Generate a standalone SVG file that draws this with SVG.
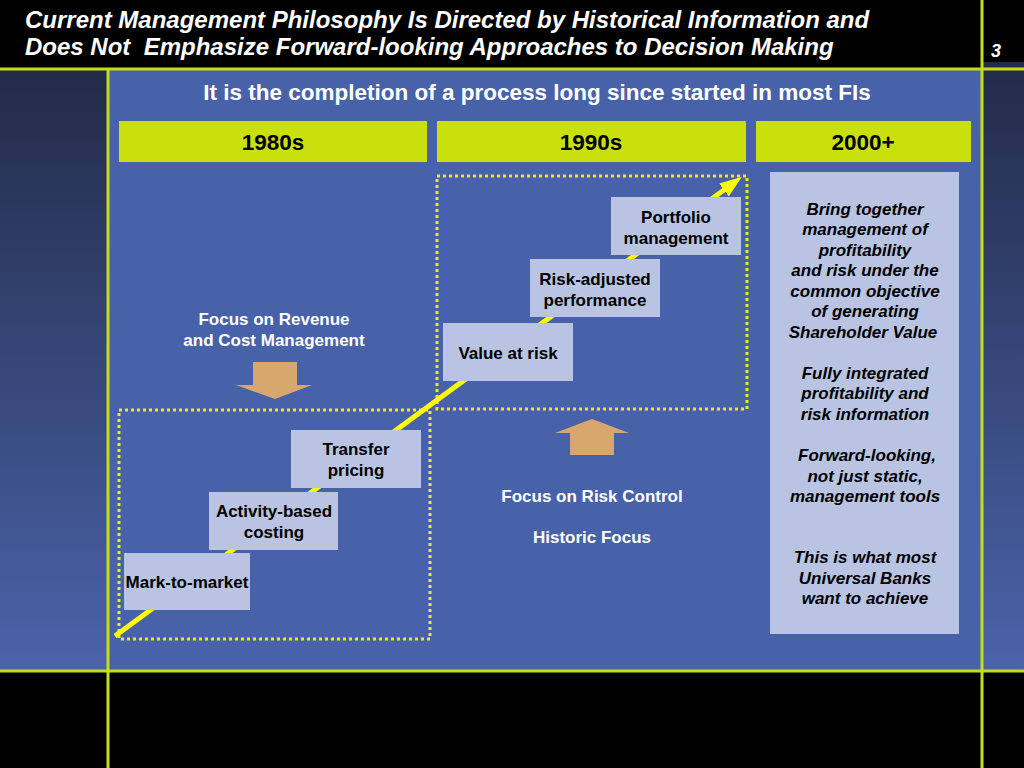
<svg xmlns="http://www.w3.org/2000/svg" width="1024" height="768" viewBox="0 0 1024 768">
<defs>
<linearGradient id="side" x1="0" y1="0" x2="0" y2="1">
<stop offset="0" stop-color="#222b48"/>
<stop offset="1" stop-color="#4a63aa"/>
</linearGradient>
<marker id="ah" markerWidth="5" markerHeight="4" refX="0.5" refY="1.6" orient="auto" markerUnits="strokeWidth">
<path d="M0,0 L4.4,1.6 L0,3.2 z" fill="#ffff00"/>
</marker>
<style>
.lime{fill:#c9e00c}
.sep{stroke:#c5dc1a;stroke-width:3}
.box{fill:#b8c4e1}
.dot{fill:none;stroke:#e8ee20;stroke-width:3;stroke-dasharray:3 3}
.t{font-family:"Liberation Sans",Arial,Helvetica,sans-serif;font-weight:bold}
.w{fill:#ffffff}
.k{fill:#000000}
.it{font-style:italic}
.tan{fill:#d8a76e}
</style>
</defs>
<rect x="0" y="0" width="1024" height="768" fill="#000"/>
<rect x="0" y="70" width="108" height="600" fill="url(#side)"/>
<rect x="982" y="62" width="42" height="608" fill="url(#side)"/>
<rect x="108" y="70" width="874" height="600" fill="#4862a9"/>
<g id="frame">
<line class="sep" x1="0" y1="69" x2="1024" y2="69"/>
<line class="sep" x1="0" y1="671" x2="1024" y2="671"/>
<line class="sep" x1="108" y1="69" x2="108" y2="768"/>
<line class="sep" x1="982" y1="0" x2="982" y2="768"/>
</g>
<g id="title">
<text class="t w it" x="25" y="28" font-size="24">Current Management Philosophy Is Directed by Historical Information and</text>
<text class="t w it" x="25" y="55" font-size="24" xml:space="preserve">Does Not  Emphasize Forward-looking Approaches to Decision Making</text>
<text class="t w it" x="991" y="57" font-size="18">3</text>
</g>
<text id="subtitle" class="t w" x="537" y="100" font-size="22.5" text-anchor="middle">It is the completion of a process long since started in most FIs</text>
<g id="y1980"><rect class="lime" x="119" y="121" width="308" height="41"/><text class="t k" x="273" y="150" font-size="22.5" text-anchor="middle">1980s</text></g>
<g id="y1990"><rect class="lime" x="437" y="121" width="309" height="41"/><text class="t k" x="591" y="150" font-size="22.5" text-anchor="middle">1990s</text></g>
<g id="y2000"><rect class="lime" x="756" y="121" width="215" height="41"/><text class="t k" x="863" y="150" font-size="22.5" text-anchor="middle">2000+</text></g>
<rect id="zone1980" class="dot" x="119" y="410" width="311" height="229"/>
<rect id="zone1990" class="dot" x="437" y="176" width="310" height="233"/>
<g id="connectors">
<line x1="115" y1="636" x2="726" y2="188.5" stroke="#ffff00" stroke-width="5" marker-end="url(#ah)"/>
</g>
<g id="mtm"><rect class="box" x="124" y="553" width="126" height="57"/><text class="t k" x="187" y="588" font-size="17" text-anchor="middle">Mark-to-market</text></g>
<g id="abc"><rect class="box" x="209" y="492" width="129" height="58"/><text class="t k" x="274" y="517" font-size="17" text-anchor="middle">Activity-based</text><text class="t k" x="274" y="538" font-size="17" text-anchor="middle">costing</text></g>
<g id="tp"><rect class="box" x="291" y="430" width="130" height="58"/><text class="t k" x="356" y="455" font-size="17" text-anchor="middle">Transfer</text><text class="t k" x="356" y="476" font-size="17" text-anchor="middle">pricing</text></g>
<g id="var"><rect class="box" x="443" y="323" width="130" height="58"/><text class="t k" x="508" y="359" font-size="17" text-anchor="middle">Value at risk</text></g>
<g id="rap"><rect class="box" x="530" y="259" width="130" height="58"/><text class="t k" x="595" y="285" font-size="17" text-anchor="middle">Risk-adjusted</text><text class="t k" x="595" y="306" font-size="17" text-anchor="middle">performance</text></g>
<g id="pm"><rect class="box" x="611" y="197" width="130" height="58"/><text class="t k" x="676" y="223" font-size="17" text-anchor="middle">Portfolio</text><text class="t k" x="676" y="244" font-size="17" text-anchor="middle">management</text></g>
<g id="focusrev">
<text class="t w" x="274" y="325" font-size="17" text-anchor="middle">Focus on Revenue</text>
<text class="t w" x="274" y="346" font-size="17" text-anchor="middle">and Cost Management</text>
<polygon class="tan" points="253,362 297,362 297,385 312,385 275,399 236,385 253,385"/>
</g>
<g id="focusrisk">
<polygon class="tan" points="570,455 614,455 614,433 629,433 592,419 555,433 570,433"/>
<text class="t w" x="592" y="502" font-size="17" text-anchor="middle">Focus on Risk Control</text>
<text class="t w" x="592" y="543" font-size="17" text-anchor="middle">Historic Focus</text>
</g>
<g id="goal">
<rect class="box" x="770" y="172" width="189" height="462"/>
<g class="t k it" font-size="17" text-anchor="middle">
<text x="865" y="215">Bring together</text>
<text x="865" y="235">management of</text>
<text x="865" y="256">profitability</text>
<text x="865" y="276">and risk under the</text>
<text x="865" y="297">common objective</text>
<text x="865" y="317">of generating</text>
<text x="863" y="338">Shareholder Value</text>
<text x="865" y="379">Fully integrated</text>
<text x="865" y="399">profitability and</text>
<text x="865" y="420">risk information</text>
<text x="867" y="461">Forward-looking,</text>
<text x="865" y="482">not just static,</text>
<text x="865" y="502">management tools</text>
<text x="865" y="563">This is what most</text>
<text x="865" y="584">Universal Banks</text>
<text x="865" y="604">want to achieve</text>
</g>
</g>
</svg>
